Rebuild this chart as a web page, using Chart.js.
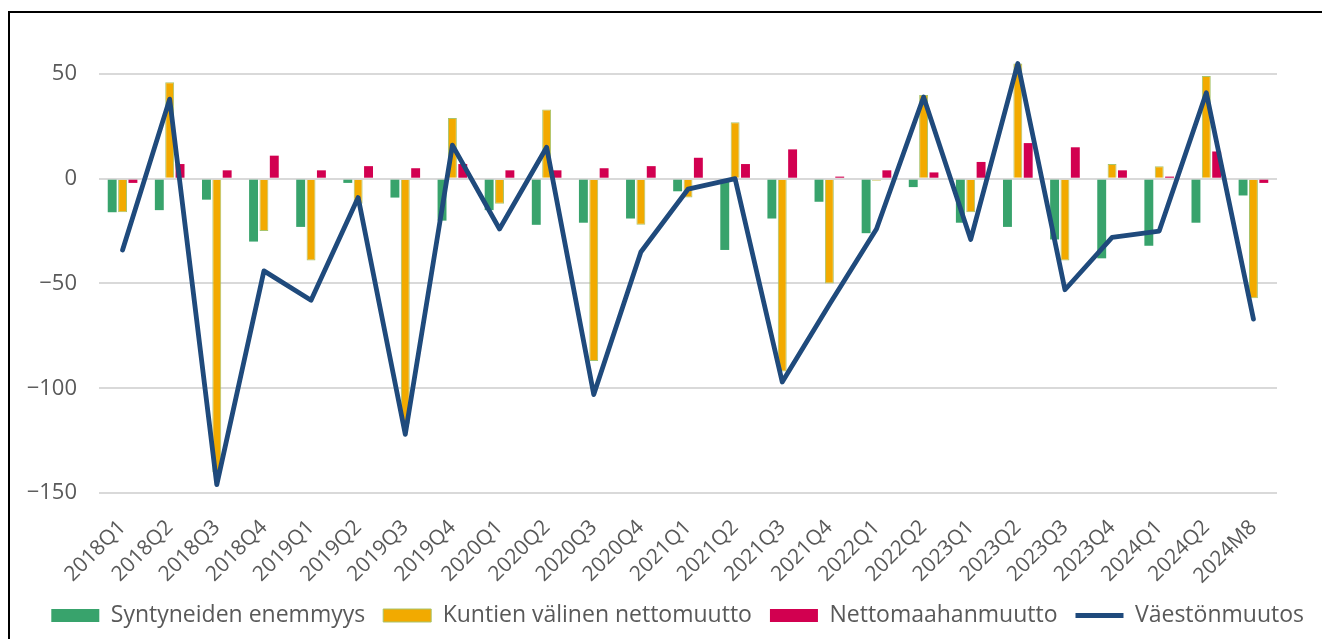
<!DOCTYPE html>
<html>
<head>
<meta charset="utf-8">
<script src="https://cdn.jsdelivr.net/npm/chart.js@4.4.1/dist/chart.umd.min.js"></script>
<style>
    html, body { margin: 0; padding: 0; background: #fff; overflow: hidden; }
    #frame {
        position: absolute; left: 8px; top: 11px; width: 1400px; height: 700px;
        border-left: 2px solid #000; border-top: 2px solid #000;
    }
    #wrap { position: absolute; left: 0; top: 0; width: 1322px; height: 639px; }
</style>
</head>
<body>
<div id="frame"></div>
<div id="wrap"><canvas id="popChart"></canvas></div>
<script>
// Periods on the x axis
const periods = [
    '2018Q1', '2018Q2', '2018Q3', '2018Q4',
    '2019Q1', '2019Q2', '2019Q3', '2019Q4',
    '2020Q1', '2020Q2', '2020Q3', '2020Q4',
    '2021Q1', '2021Q2', '2021Q3', '2021Q4',
    '2022Q1', '2022Q2',
    '2023Q1', '2023Q2', '2023Q3', '2023Q4',
    '2024Q1', '2024Q2', '2024M8'
];

// Series values
const birthSurplus = [-16, -15, -10, -30, -23, -2, -9, -20, -15, -22, -21, -19, -6, -34, -19, -11, -26, -4, -21, -23, -29, -38, -32, -21, -8];
const netMunicipal = [-16, 46, -140, -25, -39, -12, -117, 29, -12, 33, -87, -22, -9, 27, -92, -50, -1, 40, -16, 55, -39, 7, 6, 49, -57];
const netImmigration = [-2, 7, 4, 11, 4, 6, 5, 7, 4, 4, 5, 6, 10, 7, 14, 1, 4, 3, 8, 17, 15, 4, 1, 13, -2];
const populationChange = [-34, 38, -146, -44, -58, -9, -122, 16, -24, 15, -103, -35, -5, 0, -97, -60, -24, 39, -29, 55, -53, -28, -25, 41, -67];

// Y axis range
const yMin = -150;
const yMax = 60;
const yStep = 50;

Chart.defaults.font.family = "'Open Sans', sans-serif";
Chart.defaults.color = '#595959';
Chart.defaults.animation = false;

const baseLabels = Chart.defaults.plugins.legend.labels.generateLabels;

const ctx = document.getElementById('popChart').getContext('2d');
const chart = new Chart(ctx, {
    type: 'bar',
    data: {
        labels: periods,
        datasets: [
            {
                label: 'Syntyneiden enemmyys',
                data: birthSurplus,
                backgroundColor: '#38a36c',
                borderWidth: 0,
                order: 1
            },
            {
                label: 'Kuntien välinen nettomuutto',
                data: netMunicipal,
                backgroundColor: '#f2aa00',
                borderColor: '#a8c46c',
                borderWidth: 1,
                order: 1
            },
            {
                label: 'Nettomaahanmuutto',
                data: netImmigration,
                backgroundColor: '#d20050',
                borderWidth: 0,
                order: 1
            },
            {
                type: 'line',
                label: 'Väestönmuutos',
                data: populationChange,
                borderColor: '#1f4a7c',
                backgroundColor: '#1f4a7c',
                borderWidth: 4.8,
                pointRadius: 0,
                tension: 0,
                borderCapStyle: 'round',
                borderJoinStyle: 'round',
                order: 0
            }
        ]
    },
    options: {
        responsive: true,
        maintainAspectRatio: false,
        layout: {
            padding: { top: 53, left: 0, right: 0, bottom: 2 }
        },
        datasets: {
            bar: {
                categoryPercentage: 0.66,
                barPercentage: 0.86
            }
        },
        plugins: {
            tooltip: { enabled: false },
            legend: {
                position: 'bottom',
                align: 'end',
                labels: {
                    usePointStyle: true,
                    pointStyleWidth: 48,
                    boxHeight: 13,
                    padding: 18,
                    color: '#595959',
                    font: { size: 23 },
                    sort: (a, b) => a.datasetIndex - b.datasetIndex,
                    generateLabels: function(chart) {
                        const items = baseLabels(chart);
                        items.forEach(item => {
                            const ds = chart.data.datasets[item.datasetIndex];
                            item.pointStyle = ds.type === 'line' ? 'line' : 'rect';
                        });
                        return items;
                    }
                }
            }
        },
        scales: {
            x: {
                grid: { display: false, drawTicks: false },
                border: { display: false },
                ticks: {
                    autoSkip: false,
                    minRotation: 45,
                    maxRotation: 45,
                    padding: 22,
                    color: '#595959',
                    font: { size: 21 }
                },
                afterFit: function(scale) {
                    scale.height = 93;
                }
            },
            y: {
                min: yMin,
                max: yMax,
                grid: { color: '#d9d9d9', lineWidth: 2, drawTicks: false },
                border: { display: false },
                ticks: {
                    stepSize: yStep,
                    includeBounds: false,
                    padding: 22,
                    color: '#595959',
                    font: { size: 22 },
                    callback: function(value) {
                        return value < 0 ? '−' + Math.abs(value) : String(value);
                    }
                },
                afterFit: function(scale) {
                    scale.width = 99;
                }
            },
            // empty right axis, only keeps the plot area off the right edge
            yRight: {
                type: 'linear',
                position: 'right',
                grid: { display: false, drawTicks: false },
                border: { display: false },
                ticks: { display: false },
                afterFit: function(scale) {
                    scale.width = 45;
                }
            }
        }
    }
});
</script>
</body>
</html>
